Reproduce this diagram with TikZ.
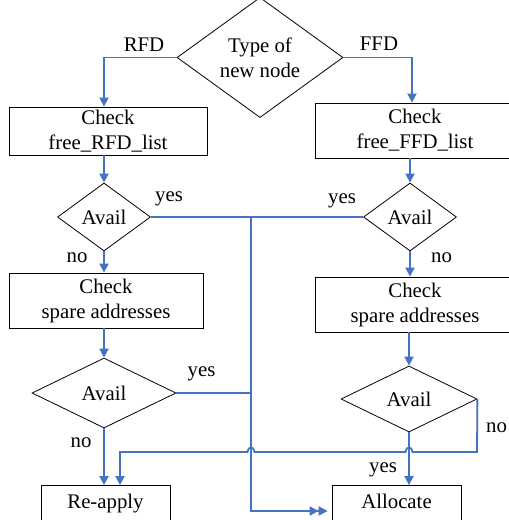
\documentclass[tikz,border=0pt]{standalone}
\usepackage{fontspec}
\setmainfont{Liberation Serif}
\usetikzlibrary{shapes.geometric,arrows.meta}
\definecolor{flowblue}{RGB}{68,114,196}
\begin{document}
\begin{tikzpicture}[x=1pt,y=-1pt,
  every node/.style={font=\fontsize{20.8}{25}\selectfont},
  box/.style={draw=black,line width=0.8pt,align=center,inner sep=0pt},
  dec/.style={draw=black,line width=0.8pt,diamond,inner sep=0pt,align=center},
  flow/.style={draw=flowblue,line width=1.8pt},
  tip/.style={Triangle[length=9pt,width=9pt]},
  arr/.style={flow,-{Triangle[length=9pt,width=9pt]}},
  lbl/.style={inner sep=0pt}
]
\useasboundingbox (0,0) rectangle (509,520);
\clip (0,0) rectangle (509,520);
% nodes
\node[dec,minimum width=166pt,minimum height=97pt] (type) at (260,57.5) {Type of\\new node};
\node[box,minimum width=198pt,minimum height=48pt] (rfd) at (108,131) {Check\\free\_RFD\_list};
\node[box,minimum width=200pt,minimum height=55pt] (ffd) at (415,130.5) {Check\\free\_FFD\_list};
\node[dec,minimum width=93pt,minimum height=68pt] (a1) at (104,217) {Avail};
\node[dec,minimum width=93pt,minimum height=68pt] (a1r) at (410,217) {Avail};
\node[box,minimum width=194pt,minimum height=55pt] (sl) at (106,300.5) {Check\\spare addresses};
\node[box,minimum width=200pt,minimum height=55pt] (sr) at (415,304.5) {Check\\spare addresses};
\node[dec,minimum width=144pt,minimum height=70pt] (a2) at (104,393) {Avail};
\node[dec,minimum width=136pt,minimum height=66pt] (a2r) at (409,399) {Avail};
\node[box,minimum width=129pt,minimum height=36pt,text height=14pt,text depth=4.5pt] (re) at (105.5,503.5) {Re-apply};
\node[box,minimum width=129pt,minimum height=36pt,text height=14pt,text depth=4.5pt] (al) at (396.5,503.5) {Allocate};
% labels
\node[lbl] (lrfd) at (144,44.5) {RFD};
\node[lbl] (lffd) at (379,44) {FFD};
\node[lbl] (y1) at (169,199) {yes};
\node[lbl] (y1r) at (342,201) {yes};
\node[lbl] (n1) at (77,258) {no};
\node[lbl] (n1r) at (441.5,258) {no};
\node[lbl] (y2) at (201.5,374) {yes};
\node[lbl] (n2) at (81,442.5) {no};
\node[lbl] (n2r) at (496.5,427.5) {no};
\node[lbl] (y2r) at (383,469.5) {yes};
% coordinates
\coordinate (j) at (251,217);
\coordinate (nx) at (120,0);
\coordinate (fx) at (412,0);
% connectors
\draw[arr] (type.west) -| (a1.north |- rfd.north);
\draw[arr] (type.east) -| (fx |- ffd.north);
\draw[arr] (rfd.south -| a1.north) -- (a1.north);
\draw[arr] (ffd.south -| a1r.north) -- (a1r.north);
\draw[arr] (a1.south) -- (a1.south |- sl.north);
\draw[arr] (a1r.south) -- (a1r.south |- sr.north);
\draw[arr] (sl.south -| a2.north) -- (a2.north);
\draw[arr] (sr.south -| a2r.north) -- (a2r.north);
\draw[arr] (a2.south) -- (a2.south |- re.north);
\draw[arr] (a2r.south) -- (a2r.south |- al.north);
\draw[flow] (a1.east) -- (a1.east -| j);
\draw[flow] (a1r.west) -- (a1r.west -| j);
\draw[flow] (a2.east) -- (a2.east -| j);
\draw[flow,-{Triangle[length=9pt,width=9pt] Triangle[length=9pt,width=9pt]}]
  (j) |- ([xshift=-4pt,yshift=-7.5pt]al.west);
\draw[arr] (a2r.east) -- (477,452) -- (412.5,452)
  .. controls (412.5,446) and (405.5,446) .. (405.5,452) -- (254.5,452)
  .. controls (254.5,446) and (247.5,446) .. (247.5,452) -- (nx |- 0,452) -- (nx |- re.north);
\end{tikzpicture}
\end{document}
